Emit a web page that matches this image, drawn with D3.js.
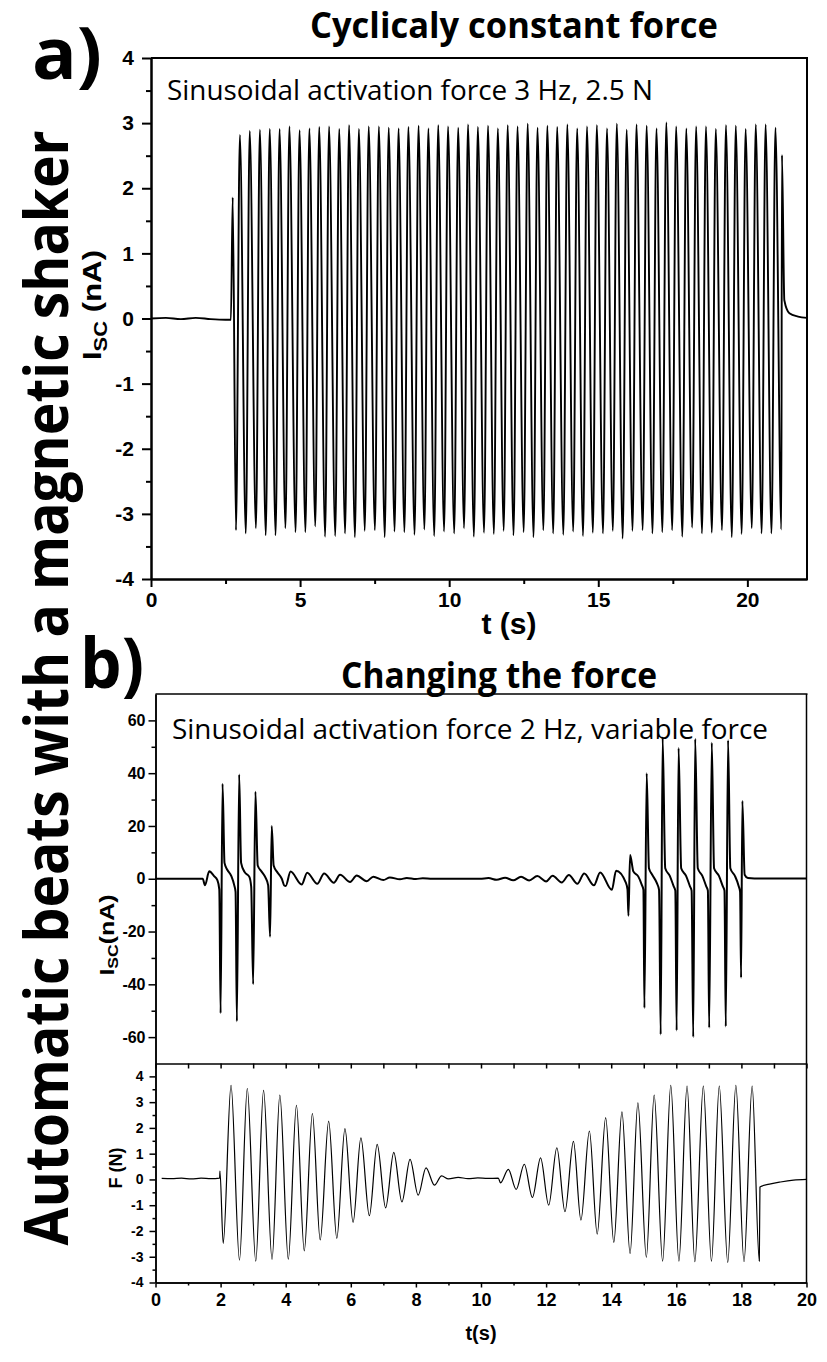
<!DOCTYPE html>
<html>
<head>
<meta charset="utf-8">
<script src="https://cdn.jsdelivr.net/npm/d3@7"></script>
<style>
body{margin:0;background:#fff}
svg{display:block}
</style>
</head>
<body>
<div id="chart"></div>
<script>
// ---- panel a : Isc (nA) vs t (s), 3 Hz, 2.5 N ----
var aBaseT = [0, 0.5, 1.0, 1.5, 2.0, 2.5, 2.68, 2.74, 21.16, 21.24, 21.41, 21.7, 22.0];
var aBaseV = [0.0, 0.01, -0.01, 0.01, -0.01, -0.02, -0.02, 1.86, 2.51, 0.28, 0.08, 0.03, 0.01];

var aMaxT = [2.98, 3.31, 3.65, 3.98, 4.31, 4.64, 4.98, 5.31, 5.64, 5.97, 6.31, 6.64, 6.97, 7.30, 7.64, 7.97, 8.30,
  8.63, 8.97, 9.30, 9.63, 9.96, 10.30, 10.63, 10.96, 11.30, 11.63, 11.96, 12.29, 12.63, 12.96, 13.29, 13.62, 13.96, 14.29, 14.62, 14.95,
  15.29, 15.62, 15.95, 16.28, 16.62, 16.95, 17.28, 17.61, 17.95, 18.28, 18.61, 18.94, 19.28, 19.61, 19.94, 20.28, 20.61, 20.94];
var aMaxV = [2.82, 2.88, 2.90, 2.91, 2.91, 2.95, 2.89, 2.92, 2.94, 2.95, 2.91, 2.97, 2.91, 2.95, 2.95, 2.93, 2.92,
  2.94, 2.96, 2.92, 2.97, 2.95, 2.93, 2.98, 2.94, 2.96, 2.92, 2.97, 2.95, 2.99, 2.93, 2.96, 2.94, 2.98, 2.92, 2.95, 2.97,
  2.92, 2.99, 2.90, 2.98, 2.96, 2.92, 3.01, 2.95, 2.92, 2.95, 2.95, 2.91, 2.97, 2.96, 2.91, 2.98, 2.98, 2.93];

var aMinT = [2.85, 3.18, 3.52, 3.85, 4.18, 4.51, 4.85, 5.18, 5.51, 5.84, 6.18, 6.51, 6.84, 7.17, 7.51, 7.84, 8.17,
  8.50, 8.84, 9.17, 9.50, 9.83, 10.17, 10.50, 10.83, 11.17, 11.50, 11.83, 12.16, 12.50, 12.83, 13.16, 13.49, 13.83, 14.16, 14.49, 14.82,
  15.16, 15.49, 15.82, 16.15, 16.49, 16.82, 17.15, 17.48, 17.82, 18.15, 18.48, 18.81, 19.15, 19.48, 19.81, 20.15, 20.48, 20.81, 21.14];
var aMinV = [-3.25, -3.30, -3.22, -3.33, -3.33, -3.22, -3.28, -3.28, -3.19, -3.35, -3.34, -3.30, -3.36, -3.26, -3.25, -3.36, -3.27,
  -3.28, -3.32, -3.24, -3.34, -3.27, -3.30, -3.22, -3.35, -3.29, -3.31, -3.26, -3.33, -3.28, -3.36, -3.25, -3.30, -3.32, -3.27, -3.34, -3.29,
  -3.30, -3.26, -3.38, -3.26, -3.25, -3.30, -3.28, -3.25, -3.35, -3.21, -3.30, -3.29, -3.25, -3.36, -3.31, -3.22, -3.30, -3.30,
  -3.24];

var aXTicks = [0, 5, 10, 15, 20];
var aXMinor = [2.5, 7.5, 12.5, 17.5];
var aYTicks = [-4, -3, -2, -1, 0, 1, 2, 3, 4];
var aYMinor = [-3.5, -2.5, -1.5, -0.5, 0.5, 1.5, 2.5, 3.5];

// ---- panel b, top : Isc (nA) vs t (s), 2 Hz, variable force ----
var bT = [0, 1.45, 1.52, 1.65, 1.80, 1.90, 1.96,
  2.00, 2.06, 2.12, 2.20, 2.33, 2.42, 2.46,
  2.50, 2.57, 2.63, 2.74, 2.88, 2.94,
  3.00, 3.07, 3.14, 3.26, 3.38, 3.46,
  3.52, 3.57, 3.63, 3.73, 3.88, 3.96, 4.00,
  4.15, 4.49, 4.66, 4.97, 5.18, 5.48, 5.67, 5.98, 6.18, 6.49, 6.69, 7.00, 7.20, 7.51, 7.72, 8.00, 8.21, 8.50, 9.97,
  10.23, 10.48, 10.74, 10.99, 11.23, 11.48, 11.73, 12.00, 12.20, 12.48, 12.70, 12.96, 13.17, 13.47, 13.66, 14.02, 14.15, 14.45, 14.50,
  14.53, 14.58, 14.68, 14.83, 14.94, 14.99,
  15.02, 15.09, 15.16, 15.26, 15.40, 15.47,
  15.52, 15.58, 15.66, 15.80, 15.92, 15.97,
  16.01, 16.07, 16.15, 16.30, 16.42, 16.47,
  16.52, 16.58, 16.66, 16.80, 16.92, 16.97,
  17.01, 17.09, 17.16, 17.31, 17.43, 17.48,
  17.52, 17.59, 17.66, 17.80, 17.92, 17.96,
  17.99, 18.03, 18.10, 18.20, 18.40, 20.0];
var bI = [0, 0, -2.5, 2.8, 1.0, -0.5, -4,
  -51, 36, 6, 3.5, 1.0, -2.5, -5,
  -54, 39.5, 6, 2.5, 0.8, -3,
  -40, 33, 5, 2.7, 0.4, -2.4,
  -22, 20, 5, 2.7, 0, -2.6, -2.7,
  2.7, -2.2, 2.3, -1.9, 2.0, -1.5, 1.5, -1.2, 1.2, -0.9, 0.8, -0.5, 0.5, -0.2, 0.3, -0.1, 0.2, 0.0, 0.0,
  0.25, -0.4, 0.4, -0.6, 0.75, -0.65, 1.0, -1.0, 1.15, -1.4, 1.4, -1.9, 2.0, -2.5, 2.4, -4.2, 3.0, -1.5, -4,
  -14, 9, 2.8, 0.9, -2.3, -4.2,
  -49, 40, 4, 1.5, -1.6, -4.2,
  -59, 53.5, 4, 1.1, -2.9, -4.5,
  -57.5, 49.5, 4, 1.1, -2.9, -4.5,
  -60, 53, 4, 1.1, -2.9, -4.5,
  -56.5, 51.5, 4, 1.1, -2.9, -4.5,
  -56, 52.5, 4, 1.1, -2.9, -5,
  -37.5, 29.5, 1.5, 0.25, 0.1, 0.1];

// ---- panel b, bottom : F (N) vs t (s) ----
var fT = [0.19, 0.5, 0.8, 1.1, 1.4, 1.7, 1.97, 1.98, 2.08, 2.32, 2.58, 2.82, 3.08, 3.32, 3.58, 3.82, 4.08, 4.33, 4.57, 4.82,
  5.06, 5.32, 5.57, 5.82, 6.07, 6.31, 6.57, 6.81, 7.07, 7.32, 7.57, 7.82, 8.07, 8.31, 8.57, 8.79, 9.0, 9.3, 9.6, 9.9,
  10.2, 10.53, 10.6, 10.84, 11.08, 11.33, 11.58, 11.83, 12.08, 12.33, 12.58, 12.84, 13.07, 13.33, 13.57, 13.83, 14.08, 14.33,
  14.58, 14.82, 15.08, 15.32, 15.58, 15.83, 16.08, 16.33, 16.57, 16.83, 17.08, 17.32, 17.58, 17.83, 18.08, 18.33, 18.55, 18.57,
  18.9, 19.2, 19.6, 20.0];
var fF = [0.04, 0.03, 0.05, 0.02, 0.05, 0.03, 0.05, 0.32, -2.48, 3.65, -3.13, 3.53, -3.17, 3.46, -3.10, 3.27, -3.09, 2.88, -2.77, 2.56,
  -2.35, 2.26, -2.29, 1.97, -1.67, 1.61, -1.41, 1.36, -1.10, 1.05, -0.87, 0.78, -0.61, 0.45, -0.22, 0.14, 0.02, 0.08, 0.03, 0.06,
  0.04, 0.05, -0.13, 0.39, -0.39, 0.59, -0.70, 0.84, -1.00, 1.23, -1.25, 1.48, -1.58, 1.88, -2.12, 2.40, -2.44, 2.62,
  -2.87, 2.97, -3.02, 3.27, -3.17, 3.65, -3.17, 3.62, -3.19, 3.62, -3.17, 3.62, -3.22, 3.65, -3.19, 3.62, -3.17, -0.29,
  -0.17, -0.10, -0.03, 0.0];

var bXTicks = [0, 2, 4, 6, 8, 10, 12, 14, 16, 18, 20];
var bXMinor = [1, 3, 5, 7, 9, 11, 13, 15, 17, 19];
var bXAll = [0, 1, 2, 3, 4, 5, 6, 7, 8, 9, 10, 11, 12, 13, 14, 15, 16, 17, 18, 19, 20];
var iYTicks = [-60, -40, -20, 0, 20, 40, 60];
var iYMinor = [-50, -30, -10, 10, 30, 50];
var fYTicks = [-4, -3, -2, -1, 0, 1, 2, 3, 4];
var fYMinor = [-3.5, -2.5, -1.5, -0.5, 0.5, 1.5, 2.5, 3.5];

var tickFont = '"Liberation Sans", Arial, Helvetica, sans-serif';
var textFont = '"Open Sans", "Noto Sans", sans-serif';

var svg = d3.select("#chart").append("svg")
  .attr("width", 827)
  .attr("height", 1362);

function pairs(ts, vs){
  return ts.map(function(t, i){ return [t, vs[i]]; });
}
function byTime(p, q){ return p[0] - q[0]; }
function plain(d){ return String(d); }

function styleAxis(g, w, fs){
  g.select(".domain").attr("stroke-width", w);
  g.selectAll(".tick line").attr("stroke-width", w);
  g.selectAll(".tick text")
    .attr("font-family", tickFont)
    .attr("font-weight", "bold")
    .attr("font-size", fs)
    .attr("fill", "#000");
}

function frameLine(x1, y1, x2, y2, w){
  svg.append("line")
    .attr("x1", x1).attr("y1", y1).attr("x2", x2).attr("y2", y2)
    .attr("stroke", "#000").attr("stroke-width", w);
}

function label(txt, x, y, size, opts){
  opts = opts || {};
  var t = svg.append("text")
    .attr("x", x).attr("y", y)
    .attr("font-family", opts.family || textFont)
    .attr("font-weight", opts.weight || "bold")
    .attr("font-size", size)
    .attr("text-anchor", opts.anchor || "start")
    .attr("fill", "#000")
    .text(txt);
  if(opts.len){
    t.attr("textLength", opts.len).attr("lengthAdjust", "spacingAndGlyphs");
  }
  if(opts.transform){
    t.attr("transform", opts.transform);
  }
  return t;
}

// subscript axis label, rotated
function iscLabel(x, y, size, rest, stretch){
  var t = svg.append("text")
    .attr("transform", "translate(" + x + "," + y + ") rotate(-90) scale(" + stretch + ",1)")
    .attr("text-anchor", "middle")
    .attr("font-family", tickFont)
    .attr("font-weight", "bold")
    .attr("font-size", size)
    .attr("fill", "#000");
  t.append("tspan").text("I");
  t.append("tspan").attr("font-size", size * 0.7).attr("dy", size * 0.22).text("SC");
  t.append("tspan").attr("dy", -size * 0.22).text(rest);
}

// ---------- big side text and panel letters ----------
label("Automatic beats with a magnetic shaker", 0, 0, 60,
  {anchor: "middle", len: 1115, transform: "translate(68,688) rotate(-90)"});
label("a)", 32, 79, 72, {len: 70});
label("b)", 80, 688, 70, {len: 64});

// ---------- panel a ----------
var xA = d3.scaleLinear().domain([0, 22]).range([151, 807]);
var yA = d3.scaleLinear().domain([-4, 4]).range([579, 58]);

label("Cyclicaly constant force", 514, 38, 35, {anchor: "middle", len: 408});
label("Sinusoidal activation force 3 Hz, 2.5 N", 167, 100, 27, {weight: "normal", len: 486});

svg.append("g").attr("transform", "translate(0,579)")
  .call(d3.axisBottom(xA).tickValues(aXMinor).tickSize(5).tickSizeOuter(0).tickFormat(""))
  .call(styleAxis, 2, 21);
svg.append("g").attr("transform", "translate(0,579)")
  .call(d3.axisBottom(xA).tickValues(aXTicks).tickSize(8).tickPadding(5).tickSizeOuter(0).tickFormat(plain))
  .call(styleAxis, 2, 21);
svg.append("g").attr("transform", "translate(151,0)")
  .call(d3.axisLeft(yA).tickValues(aYMinor).tickSize(5).tickSizeOuter(0).tickFormat(""))
  .call(styleAxis, 2, 21);
svg.append("g").attr("transform", "translate(151,0)")
  .call(d3.axisLeft(yA).tickValues(aYTicks).tickSize(9).tickPadding(8).tickSizeOuter(0).tickFormat(plain))
  .call(styleAxis, 2, 21);
frameLine(151, 58, 808, 58, 2);
frameLine(807, 58, 807, 580, 2);

label("t (s)", 509, 634, 30, {family: tickFont, anchor: "middle"});
iscLabel(101, 305, 25, " (nA)", 1.25);

var seriesA = pairs(aBaseT, aBaseV)
  .concat(pairs(aMaxT, aMaxV), pairs(aMinT, aMinV))
  .sort(byTime);

var lineA = d3.line()
  .x(function(d){ return xA(d[0]); })
  .y(function(d){ return yA(d[1]); })
  .curve(d3.curveMonotoneX);

svg.append("path")
  .datum(seriesA)
  .attr("d", lineA)
  .attr("fill", "none")
  .attr("stroke", "#000")
  .attr("stroke-width", 1.9)
  .attr("stroke-linejoin", "round");

// ---------- panel b ----------
var xB = d3.scaleLinear().domain([0, 20]).range([155.5, 806.5]);
var yI = d3.scaleLinear().domain([-70, 70]).range([1063.5, 694]);
var yF = d3.scaleLinear().domain([-4, 4.5]).range([1282.5, 1063.5]);

label("Changing the force", 499, 688, 35, {anchor: "middle", len: 316});
label("Sinusoidal activation force 2 Hz, variable force", 172, 739, 27, {weight: "normal", len: 596});

// top plot axes
svg.append("g").attr("transform", "translate(155.5,0)")
  .call(d3.axisLeft(yI).tickValues(iYMinor).tickSize(4).tickSizeOuter(0).tickFormat(""))
  .call(styleAxis, 1.5, 16);
svg.append("g").attr("transform", "translate(155.5,0)")
  .call(d3.axisLeft(yI).tickValues(iYTicks).tickSize(7).tickPadding(3).tickSizeOuter(0).tickFormat(plain))
  .call(styleAxis, 1.5, 16);
svg.append("g").attr("transform", "translate(0,1063.5)")
  .call(d3.axisBottom(xB).tickValues(bXAll).tickSize(5).tickSizeOuter(0).tickFormat(""))
  .call(styleAxis, 1.5, 16);
frameLine(155.5, 694, 807.5, 694, 1.5);
frameLine(806.5, 694, 806.5, 1283, 1.5);

// bottom plot axes
svg.append("g").attr("transform", "translate(155.5,0)")
  .call(d3.axisLeft(yF).tickValues(fYMinor).tickSize(3).tickSizeOuter(0).tickFormat(""))
  .call(styleAxis, 1.5, 14);
svg.append("g").attr("transform", "translate(155.5,0)")
  .call(d3.axisLeft(yF).tickValues(fYTicks).tickSize(6).tickPadding(6).tickSizeOuter(0).tickFormat(plain))
  .call(styleAxis, 1.5, 14);
svg.append("g").attr("transform", "translate(0,1282.5)")
  .call(d3.axisBottom(xB).tickValues(bXMinor).tickSize(3).tickSizeOuter(0).tickFormat(""))
  .call(styleAxis, 1.5, 18);
svg.append("g").attr("transform", "translate(0,1282.5)")
  .call(d3.axisBottom(xB).tickValues(bXTicks).tickSize(5).tickPadding(6).tickSizeOuter(0).tickFormat(plain))
  .call(styleAxis, 1.5, 18);

label("t(s)", 481, 1340, 20, {family: tickFont, anchor: "middle"});
label("F (N)", 0, 0, 18, {family: tickFont, anchor: "middle", transform: "translate(122,1168) rotate(-90)"});
iscLabel(114, 935, 20, "(nA)", 1.25);

var lineB = d3.line()
  .x(function(d){ return xB(d[0]); })
  .y(function(d){ return yI(d[1]); })
  .curve(d3.curveMonotoneX);

svg.append("path")
  .datum(pairs(bT, bI))
  .attr("d", lineB)
  .attr("fill", "none")
  .attr("stroke", "#000")
  .attr("stroke-width", 2)
  .attr("stroke-linejoin", "round");

var lineF = d3.line()
  .x(function(d){ return xB(d[0]); })
  .y(function(d){ return yF(d[1]); })
  .curve(d3.curveMonotoneX);

svg.append("path")
  .datum(pairs(fT, fF))
  .attr("d", lineF)
  .attr("fill", "none")
  .attr("stroke", "#000")
  .attr("stroke-width", 1.2)
  .attr("stroke-linejoin", "round");
</script>
</body>
</html>
